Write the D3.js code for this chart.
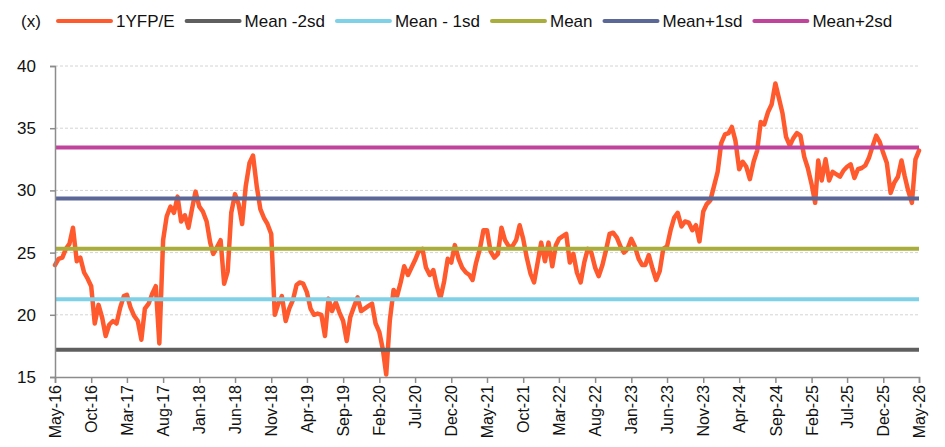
<!DOCTYPE html>
<html lang="en">

<head>
    <meta charset="UTF-8" />
    <script type="text/javascript" src="https://cdn.jsdelivr.net/npm/d3@7/dist/d3.min.js"></script>
    <title>1YFP/E with mean and standard deviation bands</title>
    <style>
        body { margin: 0; background: #fff; }
        text { font-family: Arial, "Liberation Sans", sans-serif; fill: #111; }
    </style>
</head>

<body>
    <div id="chart"></div>

    <script type="text/javascript">
        // 1YFP/E, two readings per month (1st and 16th), May-16 .. May-26
        var startDate = "2016-05-01";
        var pe = [
            24.0, 24.5, 24.6, 25.3, 25.7, 27.0, 24.3, 24.6, 23.4, 22.9, 22.3, 19.3, 20.8, 19.8, 18.3, 19.2, 19.5, 19.3, 20.6, 21.5, 21.6, 20.6, 19.9, 19.5,
            18.0, 20.5, 20.9, 21.7, 22.3, 17.7, 26.0, 27.9, 28.7, 28.2, 29.5, 27.5, 28.0, 27.0, 28.5, 29.9, 28.7, 28.3, 27.5, 25.8, 24.9, 25.4, 26.0, 22.5,
            23.5, 28.2, 29.7, 28.9, 27.3, 30.3, 32.2, 32.8, 30.3, 28.5, 27.8, 27.3, 26.5, 20.0, 20.9, 21.5, 19.5, 20.5, 21.2, 22.4, 22.6, 22.5, 21.8, 20.5,
            20.0, 20.1, 20.0, 18.3, 21.3, 20.3, 21.0, 20.2, 19.5, 17.9, 19.8, 20.6, 21.4, 20.3, 20.5, 20.7, 20.9, 19.3, 18.6, 17.2, 15.2, 19.5, 22.0, 21.5,
            22.6, 23.9, 23.2, 23.8, 24.4, 25.1, 25.3, 23.8, 23.2, 23.6, 22.3, 21.3, 22.7, 24.5, 24.2, 25.6, 24.5, 23.8, 23.4, 23.2, 22.8, 24.2, 25.3, 26.8,
            26.8, 25.1, 24.6, 24.9, 27.0, 26.0, 25.5, 25.5, 26.0, 27.2, 26.1, 24.6, 23.3, 22.6, 24.2, 25.8, 24.3, 25.8, 23.9, 25.6, 26.1, 26.3, 26.5, 24.2,
            24.9, 23.4, 22.6, 24.2, 25.3, 25.0, 23.8, 23.1, 24.0, 25.2, 26.5, 26.6, 26.2, 25.5, 25.0, 25.3, 26.1, 25.5, 24.5, 24.0, 24.0, 24.8, 23.7, 22.8,
            23.5, 25.3, 25.5, 26.8, 27.8, 28.2, 27.1, 27.5, 27.4, 26.8, 27.2, 25.9, 28.3, 28.9, 29.2, 30.3, 31.5, 33.8, 34.5, 34.6, 35.1, 34.0, 31.7, 32.3,
            31.9, 30.9, 32.3, 33.2, 35.5, 35.3, 36.3, 36.9, 38.6, 37.4, 36.2, 34.3, 33.6, 34.2, 34.6, 34.4, 32.7, 31.8, 30.5, 29.0, 32.4, 30.8, 32.5, 30.8,
            31.5, 31.3, 31.1, 31.6, 31.9, 32.1, 31.0, 31.7, 31.8, 32.0, 32.6, 33.5, 34.4, 33.9, 33.0, 32.2, 29.8, 30.6, 31.1, 32.4, 31.2, 30.0, 29.0, 32.5,
            33.2
        ];

        // mean and sd bands
        var bandNames = ["Mean -2sd", "Mean - 1sd", "Mean", "Mean+1sd", "Mean+2sd"];
        var bandValues = [17.2, 21.25, 25.3, 29.35, 33.45];
        var bandColors = ["#5f5f5f", "#7fd1e8", "#a8ad3c", "#5b6797", "#c1449c"];

        var lineName = "1YFP/E";
        var lineColor = "#ff5a2e";

        var yTicks = [15, 20, 25, 30, 35, 40];
        var xTickLabels = ["May-16", "Oct-16", "Mar-17", "Aug-17", "Jan-18", "Jun-18", "Nov-18", "Apr-19",
            "Sep-19", "Feb-20", "Jul-20", "Dec-20", "May-21", "Oct-21", "Mar-22", "Aug-22", "Jan-23",
            "Jun-23", "Nov-23", "Apr-24", "Sep-24", "Feb-25", "Jul-25", "Dec-25", "May-26"];

        var width = 945, height = 447;
        var margin = { top: 66, right: 26, bottom: 70, left: 55 };
        var chartWidth = width - margin.left - margin.right;
        var chartHeight = height - margin.top - margin.bottom;

        var parseTick = d3.timeParse("%b-%y");
        var tickDates = xTickLabels.map(parseTick);

        var start = d3.timeParse("%Y-%m-%d")(startDate);
        var data = pe.map(function (v, i) {
            var d = d3.timeMonth.offset(start, Math.floor(i / 2));
            if (i % 2 == 1) d = d3.timeDay.offset(d, 15);
            return { date: d, value: v };
        });

        var svg = d3.select("#chart")
            .append("svg")
            .attr("width", width)
            .attr("height", height);

        var g = svg.append("g")
            .attr("transform", `translate(${margin.left}, ${margin.top})`);

        var x = d3.scaleTime()
            .domain([tickDates[0], tickDates[tickDates.length - 1]])
            .range([0, chartWidth]);

        var y = d3.scaleLinear()
            .domain([15, 40])
            .range([chartHeight, 0]);

        // dashed gridlines
        g.selectAll(".grid")
            .data(yTicks.slice(1))
            .enter().append("line")
            .attr("class", "grid")
            .attr("x1", 0)
            .attr("x2", chartWidth)
            .attr("y1", function (d) { return y(d); })
            .attr("y2", function (d) { return y(d); })
            .attr("stroke", "#d4d4d4")
            .attr("stroke-width", 1)
            .attr("stroke-dasharray", "3,2");

        // the series
        var line = d3.line()
            .x(function (d) { return x(d.date); })
            .y(function (d) { return y(d.value); });

        g.append("path")
            .datum(data)
            .attr("fill", "none")
            .attr("stroke", lineColor)
            .attr("stroke-width", 4.5)
            .attr("stroke-linejoin", "round")
            .attr("stroke-linecap", "round")
            .attr("d", line);

        // band lines on top
        g.selectAll(".band")
            .data(bandValues)
            .enter().append("line")
            .attr("class", "band")
            .attr("x1", 0)
            .attr("x2", chartWidth)
            .attr("y1", function (d) { return y(d); })
            .attr("y2", function (d) { return y(d); })
            .attr("stroke", function (d, i) { return bandColors[i]; })
            .attr("stroke-width", 4);

        // axes
        var yAxis = g.append("g")
            .call(d3.axisLeft(y).tickValues(yTicks).tickSize(5).tickPadding(14));
        yAxis.selectAll("text").style("font-size", "17px");

        var xAxis = g.append("g")
            .attr("transform", `translate(0, ${chartHeight})`)
            .call(d3.axisBottom(x).tickValues(tickDates).tickSize(6)
                .tickFormat(function (d, i) { return xTickLabels[i]; }));
        xAxis.selectAll("text")
            .style("font-size", "16px")
            .style("text-anchor", "end")
            .attr("transform", "rotate(-90)")
            .attr("x", -8)
            .attr("y", 0)
            .attr("dy", ".35em");

        svg.selectAll(".domain, .tick line")
            .attr("stroke", "#8c8c8c")
            .attr("stroke-width", 1.5);

        // legend
        var legend = svg.append("g")
            .attr("transform", "translate(0, 21)");

        legend.append("text")
            .attr("x", 21)
            .attr("dy", ".35em")
            .style("font-size", "17px")
            .text("(x)");

        var items = [lineName].concat(bandNames);
        var colors = [lineColor].concat(bandColors);
        var cx = 58;
        items.forEach(function (name, i) {
            legend.append("line")
                .attr("x1", cx)
                .attr("x2", cx + 53)
                .attr("stroke", colors[i])
                .attr("stroke-width", 4)
                .attr("stroke-linecap", "round");
            var t = legend.append("text")
                .attr("x", cx + 58)
                .attr("dy", ".35em")
                .style("font-size", "17px")
                .text(name);
            cx = cx + 58 + t.node().getComputedTextLength() + 12;
        });
    </script>
</body>

</html>
